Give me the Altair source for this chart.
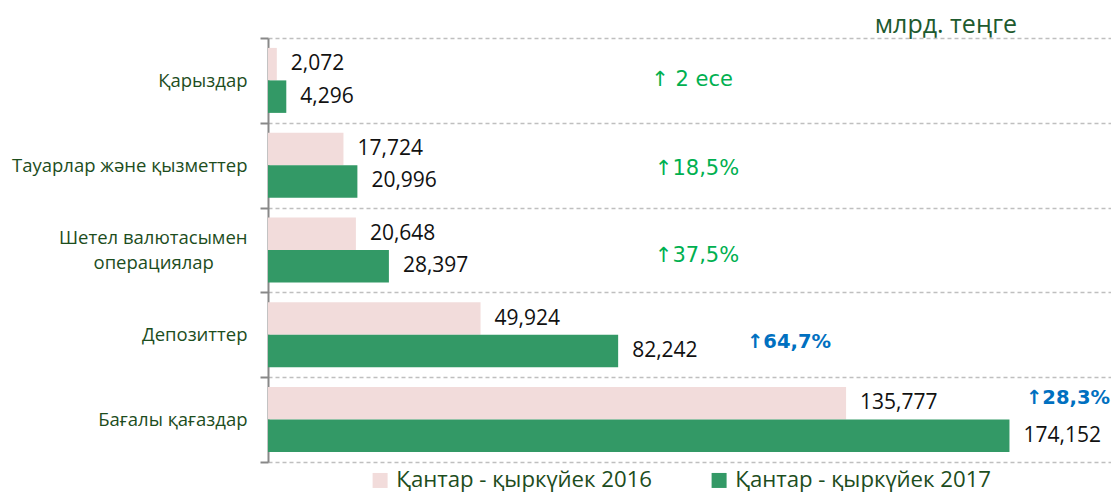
import altair as alt
import pandas as pd

categories = ["Қарыздар", "Тауарлар және қызметтер", "Шетел валютасымен операциялар", "Депозиттер", "Бағалы қағаздар"]
series = ["Қантар - қыркүйек 2016", "Қантар - қыркүйек 2017"]
v2016 = [2072, 17724, 20648, 49924, 135777]
v2017 = [4296, 20996, 28397, 82242, 174152]
growth = ["↑ 2 есе", "↑18,5%", "↑37,5%", "↑64,7%", "↑28,3%"]

rows = []
for c, a, b in zip(categories, v2016, v2017):
    rows.append({"cat": c, "series": series[0], "value": a})
    rows.append({"cat": c, "series": series[1], "value": b})
df = pd.DataFrame(rows)

LABEL_GREEN = "#1d4d1d"
FONT = "Open Sans"
WRAPPED = "Шетел валютасымен операциялар"

yscale = alt.Scale(domain=categories, paddingInner=0, paddingOuter=0)
xscale = alt.Scale(domain=[0, 198000], nice=False)
offscale = alt.Scale(domain=series, paddingInner=0, paddingOuter=0.305)

label_expr = ("datum.label == '" + WRAPPED + "' ? "
              "['Шетел валютасымен', 'операциялар" + "\u00a0" * 7 + "\u200b'] : datum.label")

yaxis = alt.Axis(tickBand="extent", grid=True, gridDash=[4, 3], gridColor="#bfbfbf",
                 gridWidth=1.5, domainColor="#888888", domainWidth=2, tickColor="#888888",
                 tickWidth=2, tickSize=8, labelPadding=13, labelFont=FONT, labelFontSize=18.5,
                 labelColor=LABEL_GREEN, labelExpr=label_expr, labelLimit=300,
                 labelLineHeight=25, title=None,
                 labelOffset={"condition": {"test": "datum.label == '" + WRAPPED + "'", "value": -12.5},
                              "value": 0})

def Y():
    return alt.Y("cat:N", scale=yscale, sort=categories, title=None, axis=yaxis)

base = alt.Chart(df)

bars = base.mark_bar().encode(
    x=alt.X("value:Q", scale=xscale, axis=None),
    y=Y(),
    yOffset=alt.YOffset("series:N", sort=series, scale=offscale),
    color=alt.Color("series:N", sort=series,
                    scale=alt.Scale(domain=series, range=["#f2dcdb", "#339966"]),
                    legend=alt.Legend(title=None, orient="none", direction="horizontal",
                                      legendX=101, legendY=431, symbolType="square",
                                      symbolSize=225, symbolStrokeWidth=0, labelFont=FONT,
                                      labelFontSize=22.2, labelColor=LABEL_GREEN, labelOffset=5,
                                      columnPadding=55, padding=0, labelLimit=400)),
)

values = base.mark_text(align="left", baseline="middle", dx=14, font=FONT, fontSize=21,
                        color="#111111").encode(
    x=alt.X("value:Q", scale=xscale, axis=None),
    y=Y(),
    yOffset=alt.YOffset("series:N", sort=series, scale=offscale),
    text=alt.Text("value:Q", format=","),
)

ann_df = pd.DataFrame({"cat": categories, "txt": growth})
ann_style = [
    (692, 0, "#00b050", "normal"),
    (697, 4, "#00b050", "normal"),
    (697, 6, "#00b050", "normal"),
    (789, 7, "#0070c0", "bold"),
    (1068, -22, "#0070c0", "bold"),
]
ann_layers = []
for i, (px, dy, col, fw) in enumerate(ann_style):
    ann_layers.append(
        alt.Chart(ann_df.iloc[[i]]).mark_text(align="center", baseline="middle", dy=dy,
                                               font="DejaVu Sans",
                                               fontSize=21 if fw == "normal" else 19.5,
                                               color=col, fontWeight=fw).encode(
            x=alt.value(px - 268),
            y=Y(),
            text="txt:N",
        )
    )

chart = alt.layer(bars, values, *ann_layers).properties(
    width=843, height=424,
    autosize=alt.AutoSizeParams(type="none"),
    padding={"left": 260, "top": 30, "right": 0, "bottom": 33},
    title=alt.TitleParams("млрд. теңге", anchor="end", fontSize=25, font=FONT, fontWeight="normal",
                          color="#1e5a2e", dx=-94, offset=-9),
).configure_view(stroke=None)

chart.save("out.html", embed_options={"renderer": "svg", "actions": False})
